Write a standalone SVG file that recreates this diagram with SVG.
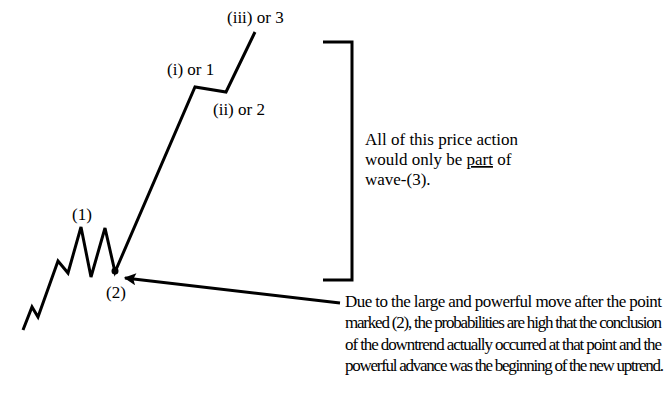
<svg xmlns="http://www.w3.org/2000/svg" width="671" height="407" viewBox="0 0 671 407">
<style>
text{font-family:"Liberation Serif","Times New Roman",serif;fill:#000}
.lbl{font-size:17px}
.body{font-size:17px}
.ln{fill:none;stroke:#000;stroke-width:3;stroke-linejoin:miter;stroke-linecap:butt}
</style>
<defs>
<marker id="ah" viewBox="0 0 10 10" refX="9" refY="5" markerWidth="8" markerHeight="4" orient="auto" markerUnits="strokeWidth">
<path d="M0,0 L10,5 L0,10 L2,5 Z" fill="#000"/>
</marker>
</defs>
<rect width="671" height="407" fill="#fff"/>
<g id="wave">
<polyline class="ln" points="23,330 32,307 38,317 58,261 68,273 81,227 91,277 105,228 115,272 195,87 226,92 255,32"/>
<circle cx="115" cy="271" r="3.5" fill="#000"/>
</g>
<g id="labels">
<text class="lbl" x="227" y="23">(iii) or 3</text>
<text class="lbl" x="167" y="75">(i) or 1</text>
<text class="lbl" x="213" y="115">(ii) or 2</text>
<text class="lbl" x="72" y="220">(1)</text>
<text class="lbl" x="106" y="298">(2)</text>
</g>
<g id="bracket">
<polyline class="ln" points="323,42 352,42 352,280 323,280"/>
</g>
<g id="note-wave3">
<text class="body" x="365" y="145">All of this price action</text>
<text class="body" x="365" y="165">would only be <tspan text-decoration="underline">part</tspan> of</text>
<text class="body" x="365" y="185">wave-(3).</text>
</g>
<g id="note-downtrend">
<text class="body" x="345" y="307" textLength="317" lengthAdjust="spacing">Due to the large and powerful move after the point</text>
<text class="body" x="345" y="328" textLength="317" lengthAdjust="spacing">marked (2), the probabilities are high that the conclusion</text>
<text class="body" x="345" y="350" textLength="317" lengthAdjust="spacing">of the downtrend actually occurred at that point and the</text>
<text class="body" x="345" y="371" textLength="319" lengthAdjust="spacing">powerful advance was the beginning of the new uptrend.</text>
</g>
<g id="connectors">
<line class="ln" x1="340" y1="303" x2="125" y2="278" marker-end="url(#ah)"/>
</g>
</svg>
